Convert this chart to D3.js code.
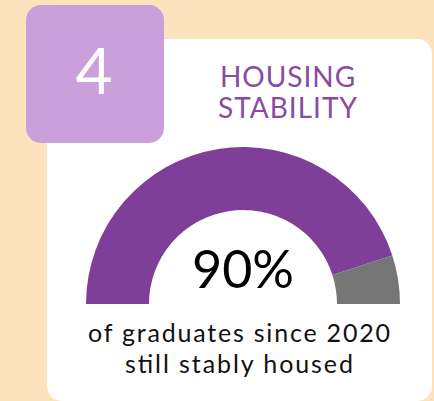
<!DOCTYPE html>
<html>
<head>
<meta charset="utf-8">
<script src="https://cdn.jsdelivr.net/npm/d3@7"></script>
<style>
  html, body { margin: 0; padding: 0; background: #fde3bd; }
  svg { display: block; }
</style>
</head>
<body>
<script>
const width = 434
const height = 401

// data
const labels = ['housed', 'not housed']
const values = [90, 10]
const colors = ['#7f3f98', '#767676']
const badge = '4'
const titleLines = ['HOUSING', 'STABILITY']
const noteLines = ['of graduates since 2020', 'still stably housed']
const noteWidths = [302, 228]

const cx = 243, cy = 304
const outerR = 157, innerR = 94
const font = 'Lato, "Open Sans", sans-serif'

const svg = d3.select('body').append('svg')
  .attr('width', width)
  .attr('height', height)

svg.append('rect')
  .attr('width', width).attr('height', height)
  .attr('fill', '#fde3bd')

// white card
svg.append('rect')
  .attr('x', 47).attr('y', 39)
  .attr('width', 385).attr('height', 362)
  .attr('rx', 15)
  .attr('fill', '#ffffff')

// badge
svg.append('rect')
  .attr('x', 26).attr('y', 5)
  .attr('width', 138).attr('height', 138)
  .attr('rx', 15)
  .attr('fill', '#cb9fdc')
svg.append('text')
  .attr('x', 94).attr('y', 94)
  .attr('text-anchor', 'middle')
  .attr('font-family', font)
  .attr('font-weight', 400)
  .attr('font-size', 64)
  .attr('fill', '#ffffff')
  .text(badge)

// title
svg.selectAll('.title')
  .data(titleLines)
  .enter().append('text')
  .attr('class', 'title')
  .attr('x', 288)
  .attr('y', (d, i) => 87 + i * 31)
  .attr('text-anchor', 'middle')
  .attr('font-family', font)
  .attr('font-weight', 400)
  .attr('font-size', 28)
  .attr('letter-spacing', 1)
  .attr('fill', '#8b4aa0')
  .text(d => d)

// gauge
const pie = d3.pie()
  .sort(null)
  .value(d => d)
  .startAngle(-Math.PI / 2)
  .endAngle(Math.PI / 2)

const arc = d3.arc()
  .innerRadius(innerR)
  .outerRadius(outerR)

const g = svg.append('g')
  .attr('transform', `translate(${cx}, ${cy})`)

g.selectAll('path')
  .data(pie(values))
  .enter().append('path')
  .attr('d', arc)
  .attr('fill', (d, i) => colors[i])

g.append('text')
  .attr('x', 0).attr('y', -16)
  .attr('text-anchor', 'middle')
  .attr('font-family', font)
  .attr('font-size', 52)
  .attr('fill', '#000000')
  .text(values[0] + '%')

svg.selectAll('.note')
  .data(noteLines)
  .enter().append('text')
  .attr('class', 'note')
  .attr('x', 239)
  .attr('y', (d, i) => 342 + i * 31)
  .attr('text-anchor', 'middle')
  .attr('font-family', font)
  .attr('font-size', 25)
  .attr('textLength', (d, i) => noteWidths[i])
  .attr('lengthAdjust', 'spacing')
  .attr('fill', '#111111')
  .text(d => d)
</script>
</body>
</html>
